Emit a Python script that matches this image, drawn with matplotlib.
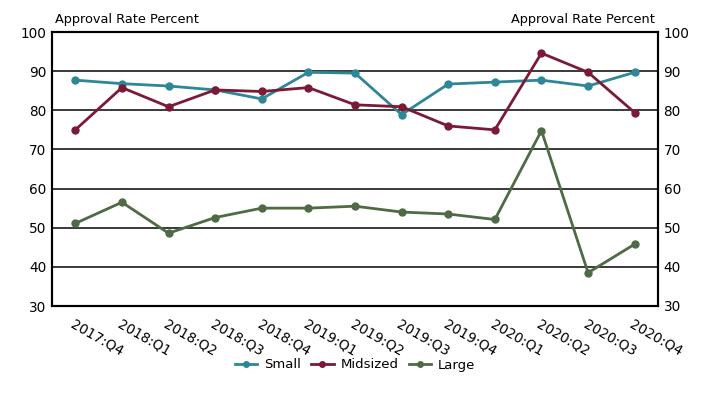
import matplotlib.pyplot as plt

quarters = ['2017:Q4', '2018:Q1', '2018:Q2', '2018:Q3', '2018:Q4', '2019:Q1', '2019:Q2',
            '2019:Q3', '2019:Q4', '2020:Q1', '2020:Q2', '2020:Q3', '2020:Q4']
small = [87.7, 86.8, 86.2, 85.2, 82.9, 89.7, 89.5, 78.9, 86.7, 87.2, 87.7, 86.2, 89.7]
midsized = [75.0, 85.8, 80.9, 85.2, 84.8, 85.8, 81.4, 80.9, 76.0, 75.0, 94.6, 89.7, 79.4]
large = [51.1, 56.5, 48.6, 52.6, 55.0, 55.0, 55.5, 54.0, 53.5, 52.1, 74.8, 38.5, 45.8]

plt.rcParams['font.family'] = ['DejaVu Sans']

fig = plt.figure(figsize=(7.25, 3.93), dpi=100)
ax = fig.add_axes([52 / 725, 1 - 306 / 393, 606 / 725, 274 / 393])

x = range(len(quarters))
ax.plot(x, small, color='#2e8797', marker='o', markersize=5, linewidth=2, label='Small', zorder=3)
ax.plot(x, midsized, color='#7a1a36', marker='o', markersize=5, linewidth=2, label='Midsized', zorder=3)
ax.plot(x, large, color='#4e6b45', marker='o', markersize=5, linewidth=2, label='Large', zorder=3)

ax.set_xlim(-0.5, len(quarters) - 0.5)
ax.set_ylim(30, 100)
ax.set_yticks(range(30, 101, 10))
for v in range(40, 100, 10):
    ax.axhline(v, color='#2a2a2a', linewidth=1.3, zorder=1)

ax.set_xticks(list(x))
ax.set_xticklabels(quarters, rotation=-30, ha='left', rotation_mode='anchor', fontsize=9.8)
ax.tick_params(axis='x', length=0, pad=8)
ax.tick_params(axis='y', length=0, labelsize=9.8, pad=4)

ax2 = ax.twinx()
ax2.set_ylim(30, 100)
ax2.set_yticks(range(30, 101, 10))
ax2.tick_params(axis='y', length=0, labelsize=9.8, pad=4)

for a in (ax, ax2):
    for s in a.spines.values():
        s.set_linewidth(1.5)
        s.set_color('black')

fig.text(55 / 725, 1 - 20 / 393, 'Approval Rate Percent', fontsize=9.3, va='center', ha='left')
fig.text(655 / 725, 1 - 20 / 393, 'Approval Rate Percent', fontsize=9.3, va='center', ha='right')

ax.legend(loc='center', bbox_to_anchor=(355 / 725, 1 - 365 / 393), bbox_transform=fig.transFigure,
          ncol=3, frameon=False, fontsize=9.5, handlelength=1.7, columnspacing=0.8,
          handletextpad=0.5, markerscale=0.8)

fig.savefig('out.png', dpi=100)
